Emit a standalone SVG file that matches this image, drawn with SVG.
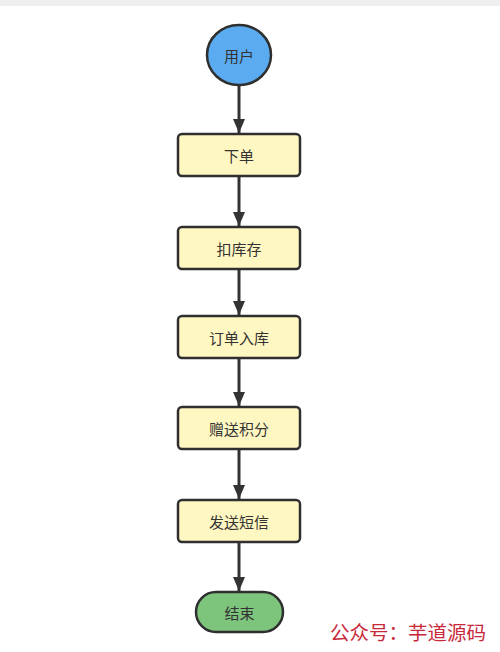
<svg xmlns="http://www.w3.org/2000/svg" width="500" height="652" viewBox="0 0 500 652">
<style>
.box{fill:#fff7c2;stroke:#2f2f2f;stroke-width:2.5}
.lbl{font-family:"Noto Sans CJK SC","Liberation Sans",sans-serif;font-size:15px;fill:#333;text-anchor:middle;dominant-baseline:central}
.edge{stroke:#333;stroke-width:3;fill:none;marker-end:url(#ah)}
</style>
<defs>
<marker id="ah" markerWidth="14" markerHeight="12" refX="14" refY="6" orient="auto" markerUnits="userSpaceOnUse" viewBox="0 0 14 12">
<path d="M0,0 L14,6 L0,12 Z" fill="#333"/>
</marker>
</defs>
<rect x="0" y="0" width="500" height="652" fill="#fff"/>
<rect x="0" y="0" width="500" height="6" fill="#efefef"/>
<g id="connectors">
<path class="edge" d="M239,86 V133"/>
<path class="edge" d="M239,177 V226"/>
<path class="edge" d="M239,270 V315"/>
<path class="edge" d="M239,359 V406"/>
<path class="edge" d="M239,450 V499"/>
<path class="edge" d="M239,543 V591"/>
</g>
<g id="user">
<ellipse cx="239" cy="55" rx="32" ry="30" fill="#5aabf0" stroke="#2f2f2f" stroke-width="2.5"/>
<text class="lbl" x="239" y="55">用户</text>
</g>
<g id="order">
<rect class="box" x="178" y="134" width="122" height="42" rx="4"/>
<text class="lbl" x="239" y="155">下单</text>
</g>
<g id="stock">
<rect class="box" x="178" y="227" width="122" height="42" rx="4"/>
<text class="lbl" x="239" y="248">扣库存</text>
</g>
<g id="save">
<rect class="box" x="178" y="316" width="122" height="42" rx="4"/>
<text class="lbl" x="239" y="337">订单入库</text>
</g>
<g id="points">
<rect class="box" x="178" y="407" width="122" height="42" rx="4"/>
<text class="lbl" x="239" y="428">赠送积分</text>
</g>
<g id="sms">
<rect class="box" x="178" y="500" width="122" height="42" rx="4"/>
<text class="lbl" x="239" y="521">发送短信</text>
</g>
<g id="end">
<rect x="196" y="592" width="87" height="40" rx="20" fill="#7dc47d" stroke="#2f2f2f" stroke-width="2.5"/>
<text class="lbl" x="239.500" y="612">结束</text>
</g>
<text x="330" y="640" font-family="Noto Sans CJK SC,sans-serif" font-size="19.500" fill="#c8283a">公众号：芋道源码</text>
</svg>
